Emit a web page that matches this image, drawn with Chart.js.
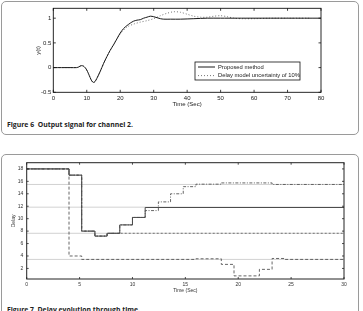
<!DOCTYPE html>
<html>
<head>
<meta charset="utf-8">
<script src="https://cdn.jsdelivr.net/npm/chart.js@4/dist/chart.umd.min.js"></script>
<style>
  html, body { margin:0; padding:0; background:#fff; width:363px; height:311px; overflow:hidden; position:relative; }
  .box { position:absolute; border:1px solid #9a9a9a; box-sizing:border-box; }
  #box6 { left:1px; top:1px; width:358px; height:134px; border-radius:5px; }
  #box7 { left:1px; top:154px; width:358px; height:170px; border-radius:5px; }
  canvas { position:absolute; left:0; }
  #c6 { top:0; }
  #c7 { top:150px; }
  .cap { position:absolute; left:7px; font-family:"Open Sans", sans-serif; font-weight:700; font-size:6.6px; color:#222; white-space:pre; transform-origin:0 0; line-height:1; }
  #cap6 { top:122px; }
  #cap7 { top:307.3px; }
</style>
</head>
<body>
<div class="box" id="box6"></div>
<div class="box" id="box7"></div>
<canvas id="c6" width="363" height="120"></canvas>
<canvas id="c7" width="363" height="150"></canvas>
<div class="cap" id="cap6">Figure 6  Output signal for channel 2.</div>
<div class="cap" id="cap7">Figure 7  Delay evolution through time.</div>
<script>
// ---------- Figure 6 data ----------
const fig6Time = [0, 5, 7, 7.5, 8, 8.5, 9, 9.5, 10, 10.5, 11, 11.5, 12, 12.5, 13, 14, 15, 16, 17, 18, 19, 20, 21, 22, 23, 24, 25, 26, 27, 28, 29, 30, 31, 32, 33, 35, 38, 42, 46, 50, 55, 60, 70, 80];
const fig6Proposed = [0, 0, 0, 0.01, 0.03, 0.04, 0.03, 0.0, -0.05, -0.12, -0.2, -0.27, -0.3, -0.28, -0.22, -0.08, 0.08, 0.22, 0.35, 0.46, 0.58, 0.70, 0.79, 0.85, 0.9, 0.94, 0.96, 0.97, 1.0, 1.02, 1.04, 1.03, 1.01, 0.99, 0.98, 0.98, 0.98, 0.99, 1.0, 1.0, 1.0, 1.0, 1.0, 1.0];
const fig6UncTime = [0, 5, 7, 7.5, 8, 8.5, 9, 9.5, 10, 10.5, 11, 11.5, 12, 12.5, 13, 14, 15, 16, 17, 18, 19, 20, 22, 24, 26, 28, 30, 32, 34, 36, 38, 40, 42, 44, 46, 48, 50, 52, 54, 56, 60, 65, 70, 77];
const fig6Uncertainty = [0, 0, 0, 0.01, 0.03, 0.04, 0.03, 0.0, -0.05, -0.12, -0.2, -0.27, -0.3, -0.28, -0.22, -0.08, 0.08, 0.22, 0.35, 0.47, 0.58, 0.68, 0.82, 0.88, 0.92, 0.95, 0.99, 1.05, 1.10, 1.13, 1.12, 1.08, 1.04, 1.02, 1.02, 1.04, 1.05, 1.03, 1.0, 0.99, 0.99, 1.0, 1.0, 1.0];
const fig6XTicks = [0, 10, 20, 30, 40, 50, 60, 70, 80];
const fig6YTicks = [-0.5, 0, 0.5, 1];
const fig6Labels = ['Proposed method', 'Delay model uncertainty of 10%'];

// ---------- Figure 7 data (step changes: time at which each value starts) ----------
const delaySolidTime   = [0, 4.0, 5.2, 6.45, 7.6, 8.8, 10.0, 11.2, 30];
const delaySolidValue  = [18, 17, 8.0, 7.2, 7.65, 9.0, 10.2, 11.8, 11.8];
const delayDashTime    = [0, 4.0, 5.2, 16.0, 18.4, 19.6, 22.0, 23.2, 24.4, 30];
const delayDashValue   = [18, 4.0, 3.45, 3.55, 2.65, 0.8, 1.85, 3.6, 3.45, 3.45];
const delayDashDotTime  = [0, 4.0, 5.2, 6.45, 7.6, 8.8, 10.0, 11.2, 12.45, 13.6, 14.8, 16.0, 18.4, 23.2, 30];
const delayDashDotValue = [18, 17, 8.0, 7.2, 7.65, 9.0, 10.2, 11.3, 12.7, 14.0, 15.15, 15.55, 15.75, 15.5, 15.5];
const delayDotTime     = [0, 4.0, 5.2, 6.45, 7.6, 30];
const delayDotValue    = [18, 17, 8.0, 7.2, 7.65, 7.65];
const delayRefLevels   = [15.5, 11.85, 7.65, 3.45];
const fig7XTicks = [0, 5, 10, 15, 20, 25, 30];
const fig7YTicks = [2, 4, 6, 8, 10, 12, 14, 16, 18];

const zip = (xs, ys) => xs.map((x, i) => ({x: x, y: ys[i]}));

const TICKFONT = "'Liberation Sans', Arial, sans-serif";

// Frame + inward ticks (MATLAB "box on" style)
const framePlugin = {
  id: 'frame',
  afterDatasetsDraw(chart, args, o) {
    const {ctx, chartArea: a, scales} = chart;
    ctx.save();
    ctx.strokeStyle = o.color;
    ctx.lineWidth = o.width;
    ctx.strokeRect(a.left, a.top, a.right - a.left, a.bottom - a.top);
    const L = o.tick;
    ctx.lineWidth = 0.8;
    ctx.beginPath();
    scales.x.ticks.forEach(t => {
      const px = scales.x.getPixelForValue(t.value);
      ctx.moveTo(px, a.bottom); ctx.lineTo(px, a.bottom - L);
      ctx.moveTo(px, a.top); ctx.lineTo(px, a.top + L);
    });
    scales.y.ticks.forEach(t => {
      const py = scales.y.getPixelForValue(t.value);
      ctx.moveTo(a.left, py); ctx.lineTo(a.left + L, py);
      ctx.moveTo(a.right, py); ctx.lineTo(a.right - L, py);
    });
    ctx.stroke();
    ctx.restore();
  }
};

// Boxed legend inside the plot area (drawn from dataset labels/styles)
const boxLegendPlugin = {
  id: 'boxLegend',
  afterDraw(chart, args, o) {
    if (!o.display) return;
    const ctx = chart.ctx;
    ctx.save();
    ctx.fillStyle = '#fff';
    ctx.fillRect(o.left, o.top, o.width, o.height);
    ctx.strokeStyle = '#111';
    ctx.lineWidth = 0.8;
    ctx.strokeRect(o.left, o.top, o.width, o.height);
    ctx.font = o.font;
    ctx.textBaseline = 'middle';
    chart.data.datasets.forEach((ds, i) => {
      const y = o.top + o.rowTop + i * o.rowGap;
      ctx.beginPath();
      ctx.setLineDash(ds.borderDash || []);
      ctx.strokeStyle = ds.borderColor;
      ctx.lineWidth = ds.borderWidth;
      ctx.moveTo(o.left + o.lineX0, y);
      ctx.lineTo(o.left + o.lineX1, y);
      ctx.stroke();
      ctx.setLineDash([]);
      ctx.fillStyle = '#222';
      ctx.fillText(ds.label, o.left + o.textX, y);
    });
    ctx.restore();
  }
};

function fixedTicks(arr) {
  return function(scale) { scale.ticks = arr.map(v => ({value: v})); };
}
function fmt(v) { return String(Math.round(v * 100) / 100); }

// ---------- Figure 6 ----------
new Chart(document.getElementById('c6'), {
  type: 'line',
  data: {
    datasets: [
      { label: fig6Labels[0], data: zip(fig6Time, fig6Proposed), borderColor: '#1a1a1a', borderWidth: 1, pointRadius: 0, tension: 0.3, fill: false },
      { label: fig6Labels[1], data: zip(fig6UncTime, fig6Uncertainty), borderColor: '#666', borderWidth: 0.9, borderDash: [1, 2], pointRadius: 0, tension: 0.3, fill: false }
    ]
  },
  options: {
    responsive: false, animation: false, devicePixelRatio: 1,
    layout: { padding: { left: 34.4, right: 42, top: 8.3, bottom: 12.4 } },
    plugins: {
      legend: { display: false }, tooltip: { enabled: false },
      frame: { color: '#111', width: 0.9, tick: 2.5 },
      boxLegend: { display: true, left: 195, top: 62, width: 105, height: 18, rowTop: 5, rowGap: 8.6, lineX0: 3, lineX1: 20, textX: 23, font: "5.8px " + TICKFONT }
    },
    scales: {
      x: {
        type: 'linear', min: 0, max: 80,
        afterBuildTicks: fixedTicks(fig6XTicks),
        afterFit(s) { s.height = 15.3; },
        grid: { display: false, drawTicks: false }, border: { display: false },
        ticks: { color: '#222', font: { family: TICKFONT, size: 6 }, padding: 2.2, maxRotation: 0, callback: v => fmt(v) },
        title: { display: true, text: 'Time (Sec)', color: '#222', font: { family: TICKFONT, size: 6 }, padding: 0 }
      },
      y: {
        type: 'linear', min: -0.5, max: 1.2,
        afterBuildTicks: fixedTicks(fig6YTicks),
        afterFit(s) { s.width = 53.3 - 34.4; },
        grid: { display: false, drawTicks: false }, border: { display: false },
        ticks: { color: '#222', font: { family: TICKFONT, size: 6 }, padding: 2, callback: v => fmt(v) },
        title: { display: true, text: 'y(t)', color: '#222', font: { family: TICKFONT, size: 6 }, padding: 0 }
      }
    }
  },
  plugins: [framePlugin, boxLegendPlugin]
});

// ---------- Figure 7 ----------
const refSets = delayRefLevels.map(v => ({
  label: 'ref', data: [{x: 0, y: v}, {x: 30, y: v}], borderColor: '#d2d2d2', borderWidth: 1, pointRadius: 0, fill: false
}));
new Chart(document.getElementById('c7'), {
  type: 'line',
  data: {
    datasets: [
      { label: 'solid', data: zip(delaySolidTime, delaySolidValue), stepped: 'before', borderColor: '#484848', borderWidth: 1, pointRadius: 0, fill: false },
      { label: 'dashdot', data: zip(delayDashDotTime, delayDashDotValue), stepped: 'before', borderColor: '#555', borderWidth: 0.9, borderDash: [3, 1.5, 1, 1.5], pointRadius: 0, fill: false },
      { label: 'dashed', data: zip(delayDashTime, delayDashValue), stepped: 'before', borderColor: '#555', borderWidth: 0.9, borderDash: [3, 2], pointRadius: 0, fill: false },
      { label: 'dotted', data: zip(delayDotTime, delayDotValue), stepped: 'before', borderColor: '#666', borderWidth: 0.9, borderDash: [2, 2], pointRadius: 0, fill: false },
      ...refSets
    ]
  },
  options: {
    responsive: false, animation: false, devicePixelRatio: 1,
    layout: { padding: { left: 10.7, right: 19, top: 12.7, bottom: 6 } },
    plugins: {
      legend: { display: false }, tooltip: { enabled: false },
      frame: { color: '#222', width: 1, tick: 2 },
      boxLegend: { display: false }
    },
    scales: {
      x: {
        type: 'linear', min: 0, max: 30,
        afterBuildTicks: fixedTicks(fig7XTicks),
        afterFit(s) { s.height = 15; },
        grid: { display: false, drawTicks: false }, border: { display: false },
        ticks: { color: '#333', font: { family: TICKFONT, size: 5 }, padding: 3, maxRotation: 0, callback: v => fmt(v) },
        title: { display: true, text: 'Time (Sec)', color: '#333', font: { family: TICKFONT, size: 5 }, padding: 0 }
      },
      y: {
        type: 'linear', min: 0.3, max: 19,
        afterBuildTicks: fixedTicks(fig7YTicks),
        afterFit(s) { s.width = 26.7 - 10.7; },
        grid: { display: false, drawTicks: false }, border: { display: false },
        ticks: { color: '#333', font: { family: TICKFONT, size: 5 }, padding: 3.5, callback: v => fmt(v) },
        title: { display: true, text: 'Delay', color: '#333', font: { family: TICKFONT, size: 5 }, padding: 0 }
      }
    }
  },
  plugins: [framePlugin, boxLegendPlugin]
});

// fit captions to the reference widths
function fitCaption(id, w) {
  const el = document.getElementById(id);
  const r = el.getBoundingClientRect().width;
  if (r > 0) el.style.transform = 'scaleX(' + (w / r) + ')';
}
fitCaption('cap6', 126);
fitCaption('cap7', 133);
</script>
</body>
</html>
